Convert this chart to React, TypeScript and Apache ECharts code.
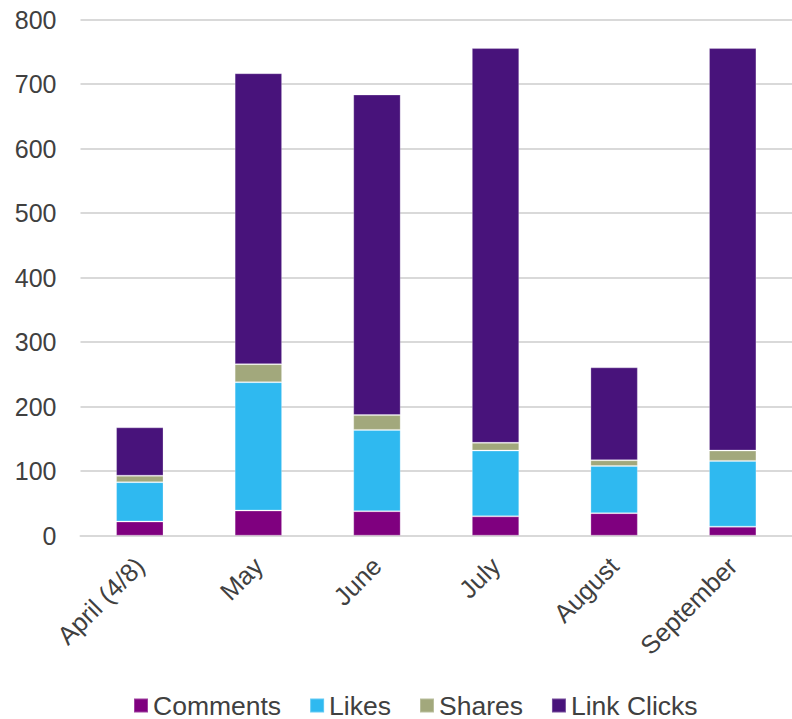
import React, { useEffect, useRef } from "react";
import * as echarts from "echarts";

const categories = ["April (4/8)", "May", "June", "July", "August", "September"];
const comments = [22, 39, 38, 30, 35, 14];
const likes = [61, 199, 126, 102, 73, 102];
const shares = [10, 28, 23, 12, 9, 16];
const linkClicks = [75, 451, 497, 612, 144, 624];
const yTicks = { min: 0, max: 800, interval: 100 };

const FONT = "'Liberation Sans', Arial, sans-serif";
const TEXT = "#404040";

export default function App() {
  const ref = useRef<HTMLDivElement>(null);
  useEffect(() => {
    if (!ref.current) return;
    const chart = echarts.init(ref.current, undefined, { renderer: "svg" });
    const mk = (name: string, data: number[], color: string) => ({
      name,
      type: "bar",
      stack: "total",
      data,
      barWidth: "40%",
      itemStyle: { color, borderColor: "rgba(255,255,255,0.25)", borderWidth: 1 },
    });
    chart.setOption({
      animation: false,
      textStyle: { fontFamily: FONT },
      grid: { left: 80.5, right: -5.5, top: 19.7, bottom: 183.3, containLabel: false },
      xAxis: {
        type: "category",
        data: categories,
        axisLine: { show: true, lineStyle: { color: "#d9d9d9", width: 2 } },
        axisTick: { show: false },
        axisLabel: {
          rotate: 45,
          interval: 0,
          margin: 26,
          color: TEXT,
          fontSize: 25.5,
          fontFamily: FONT,
        },
      },
      yAxis: {
        type: "value",
        min: yTicks.min,
        max: yTicks.max,
        interval: yTicks.interval,
        axisLine: { show: false },
        axisTick: { show: false },
        splitLine: { lineStyle: { color: "#d9d9d9", width: 2 } },
        axisLabel: { color: TEXT, fontSize: 25, margin: 24, fontFamily: FONT },
      },
      legend: {
        bottom: 0,
        left: 133,
        padding: 0,
        icon: "rect",
        itemWidth: 14,
        itemHeight: 14,
        itemGap: 28,
        textStyle: { color: TEXT, fontSize: 26.5, fontFamily: FONT },
        data: ["Comments", "Likes", "Shares", "Link Clicks"],
      },
      series: [
        mk("Comments", comments, "#7F007F"),
        mk("Likes", likes, "#2FB9F0"),
        mk("Shares", shares, "#A2A87C"),
        mk("Link Clicks", linkClicks, "#48137B"),
      ],
    });
    return () => chart.dispose();
  }, []);
  return (
    <div
      ref={ref}
      style={{ position: "fixed", left: 0, top: 0, width: 792, height: 719, background: "#fff" }}
    />
  );
}
